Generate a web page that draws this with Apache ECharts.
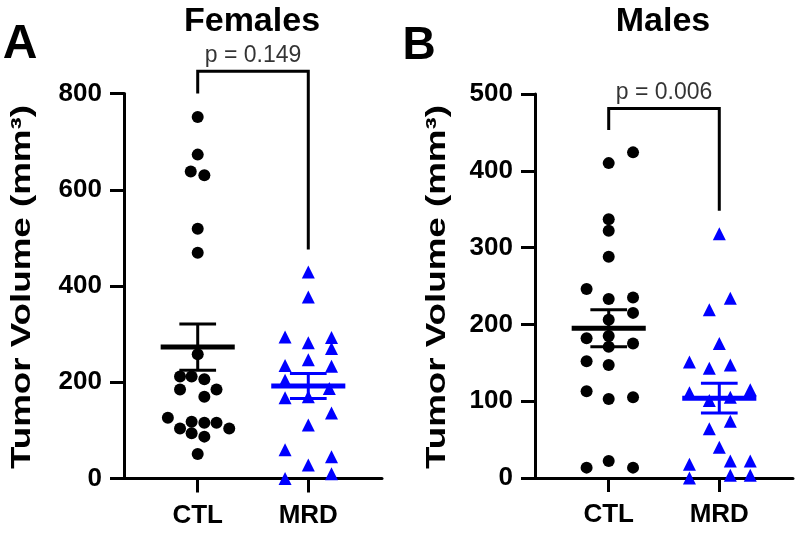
<!DOCTYPE html>
<html>
<head>
<meta charset="utf-8">
<script src="https://cdn.jsdelivr.net/npm/echarts@6/dist/echarts.min.js"></script>
<style>
html,body{margin:0;padding:0;background:#fff;}
#chart{width:800px;height:533px;}
</style>
</head>
<body>
<div id="chart"></div>
<script>
// ---------- data ----------
const categories = ['CTL', 'MRD'];
const panelTitles = ['Females', 'Males'];
const panelLetters = ['A', 'B'];
const yAxisTitle = 'Tumor Volume (mm³)';
const yTicksA = [0, 200, 400, 600, 800];
const yTicksB = [0, 100, 200, 300, 400, 500];

// Females (panel A)
const femCTL       = [751, 673, 638, 630, 519, 469, 258, 212, 212, 206, 185, 185, 170, 126, 118, 116, 116, 104, 104, 94, 87, 51];
const femCTLJitter = [0, 0, -0.063, 0.06, 0, 0, 0, -0.16, -0.055, 0.06, -0.16, 0.17, 0.06, -0.27, -0.055, 0.06, 0.17, -0.16, 0.285, -0.055, 0.06, 0];
const femMRD       = [429, 377, 294, 282, 293, 270, 247, 235, 233, 204, 187, 170, 168, 136, 111, 60, 45, 28, 10, 0];
const femMRDJitter = [0, 0, -0.21, 0, 0.21, 0.21, 0, -0.21, 0.21, -0.21, 0.19, 0, -0.21, 0.21, 0, -0.21, 0.21, 0, 0.21, -0.21];
const femMean = [273, 192];
const femSEM  = [48, 26];
const femP = 'p = 0.149';
const femBracket = [800, 846, 476]; // left leg end, top, right leg end

// Males (panel B)
const malCTL       = [424, 410, 337, 322, 288, 246, 233, 235, 215, 206, 185, 182, 175, 171, 152, 147, 113, 103, 105, 22, 13.5, 13.5];
const malCTLJitter = [0.22, 0, 0, 0, 0, -0.2, 0, 0.22, 0.22, 0, 0, -0.2, 0.22, 0, -0.2, 0, -0.2, 0, 0.22, 0, -0.2, 0.22];
const malMRD       = [318, 234, 219, 175, 151, 143, 147, 111, 115, 101, 105, 74, 64, 40, 18, 22, 22, 0, 3.5, 3.5];
const malMRDJitter = [0, 0.1, -0.09, 0, -0.27, -0.09, 0.1, -0.27, 0.28, -0.09, 0.1, 0.1, -0.09, 0, -0.27, 0.1, 0.28, -0.27, 0.1, 0.28];
const malMean = [195, 104];
const malSEM  = [24, 19.5];
const malP = 'p = 0.006';
const malBracket = [453, 481, 348];

// ---------- chart ----------
const FONT = 'Liberation Sans, Arial, sans-serif';
const BLACK = '#000000';
const BLUE = '#0000ff';

function pts(vals, jit, pos) { return vals.map((v, i) => [pos + jit[i], v]); }

function xAxisFor(gi) {
  return {
    type: 'value', gridIndex: gi, min: 1 / 3, max: 8 / 3,
    axisLine: { show: true, onZero: false, lineStyle: { color: BLACK, width: 3 } },
    axisTick: { show: true, customValues: [1, 2], length: 14, lineStyle: { color: BLACK, width: 3 } },
    axisLabel: { show: true, customValues: [1, 2], margin: 24, formatter: v => categories[Math.round(v) - 1] || '',
      fontFamily: FONT, fontWeight: 'bold', fontSize: 26, color: BLACK },
    splitLine: { show: false }
  };
}
function yAxisFor(gi, ticks) {
  return {
    type: 'value', gridIndex: gi, min: ticks[0], max: ticks[ticks.length - 1], interval: ticks[1] - ticks[0],
    axisLine: { show: true, lineStyle: { color: BLACK, width: 3 } },
    axisTick: { show: true, length: 14, lineStyle: { color: BLACK, width: 3 } },
    axisLabel: { margin: 22, fontFamily: FONT, fontWeight: 'bold', fontSize: 26, color: BLACK },
    splitLine: { show: false }
  };
}

function meanSem(gi, means, sems) {
  return {
    type: 'custom', xAxisIndex: gi, yAxisIndex: gi, z: 5, silent: true, clip: false,
    data: means.map((m, i) => [i + 1, m, sems[i]]),
    renderItem: function (params, api) {
      const x = api.value(0), m = api.value(1), s = api.value(2);
      const c = api.coord([x, m]);
      const top = api.coord([x, m + s]);
      const bot = api.coord([x, m - s]);
      const halfW = api.size([0.335, 0])[0];
      const capW = api.size([0.166, 0])[0];
      const col = params.dataIndex === 0 ? BLACK : BLUE;
      return {
        type: 'group',
        children: [
          { type: 'line', shape: { x1: c[0] - halfW, y1: c[1], x2: c[0] + halfW, y2: c[1] }, style: { stroke: col, lineWidth: 5 } },
          { type: 'line', shape: { x1: c[0], y1: top[1], x2: c[0], y2: bot[1] }, style: { stroke: col, lineWidth: 3 } },
          { type: 'line', shape: { x1: c[0] - capW, y1: top[1], x2: c[0] + capW, y2: top[1] }, style: { stroke: col, lineWidth: 3 } },
          { type: 'line', shape: { x1: c[0] - capW, y1: bot[1], x2: c[0] + capW, y2: bot[1] }, style: { stroke: col, lineWidth: 3 } }
        ]
      };
    }
  };
}

function bracket(gi, b, pText) {
  return [{
    type: 'line', xAxisIndex: gi, yAxisIndex: gi, silent: true, clip: false, symbol: 'none', z: 4,
    data: [[1, b[0]], [1, b[1]], [2, b[1]], [2, b[2]]],
    lineStyle: { color: BLACK, width: 3, join: 'miter', cap: 'butt' }
  }, {
    type: 'scatter', xAxisIndex: gi, yAxisIndex: gi, silent: true, clip: false, symbolSize: 1,
    itemStyle: { color: 'rgba(0,0,0,0)' },
    data: [[1.5, b[1]]],
    label: { show: true, position: 'top', distance: 4, formatter: pText, fontFamily: FONT, fontSize: 23, color: BLACK }
  }];
}

function scatterSeries(gi, data, color, symbol, size) {
  return {
    type: 'scatter', xAxisIndex: gi, yAxisIndex: gi, clip: false, silent: true, z: 3,
    symbol: symbol, symbolSize: size, itemStyle: { color: color, opacity: 1 }, data: data
  };
}

// stretched rotated axis title (measured so it spans the same length as in the figure)
const titleFont = 'bold 28px ' + FONT;
const mctx = document.createElement('canvas').getContext('2d');
mctx.font = titleFont;
const titleW = mctx.measureText(yAxisTitle).width;
const titleScale = 364 / titleW;
function yTitle(cx, cy) {
  return {
    type: 'text', x: cx, y: cy, rotation: Math.PI / 2, scaleX: titleScale, scaleY: 1,
    style: { text: yAxisTitle, font: titleFont, fill: BLACK, align: 'center', verticalAlign: 'middle' }
  };
}

const chart = echarts.init(document.getElementById('chart'), null, { renderer: 'canvas' });
const option = {
  animation: false,
  backgroundColor: '#ffffff',
  grid: [
    { left: 124, top: 93.5, width: 258, height: 385 },
    { left: 535, top: 94, width: 258, height: 384 }
  ],
  xAxis: [xAxisFor(0), xAxisFor(1)],
  yAxis: [yAxisFor(0, yTicksA), yAxisFor(1, yTicksB)],
  graphic: [
    { type: 'text', x: 20, y: 45, style: { text: panelLetters[0], font: 'bold 48px ' + FONT, fill: BLACK, align: 'center', verticalAlign: 'middle' } },
    { type: 'text', x: 419, y: 46, style: { text: panelLetters[1], font: 'bold 46px ' + FONT, fill: BLACK, align: 'center', verticalAlign: 'middle' } },
    { type: 'text', x: 252, y: 22, style: { text: panelTitles[0], font: 'bold 34px ' + FONT, fill: BLACK, align: 'center', verticalAlign: 'middle' } },
    { type: 'text', x: 663, y: 22, style: { text: panelTitles[1], font: 'bold 34px ' + FONT, fill: BLACK, align: 'center', verticalAlign: 'middle' } },
    yTitle(22, 287),
    yTitle(437, 287)
  ],
  series: [
    scatterSeries(0, pts(femCTL, femCTLJitter, 1), BLACK, 'circle', 12),
    scatterSeries(0, pts(femMRD, femMRDJitter, 2), BLUE, 'triangle', 13),
    meanSem(0, femMean, femSEM),
    ...bracket(0, femBracket, femP),
    scatterSeries(1, pts(malCTL, malCTLJitter, 1), BLACK, 'circle', 12),
    scatterSeries(1, pts(malMRD, malMRDJitter, 2), BLUE, 'triangle', 13),
    meanSem(1, malMean, malSEM),
    ...bracket(1, malBracket, malP)
  ]
};
chart.setOption(option);
</script>
</body>
</html>
